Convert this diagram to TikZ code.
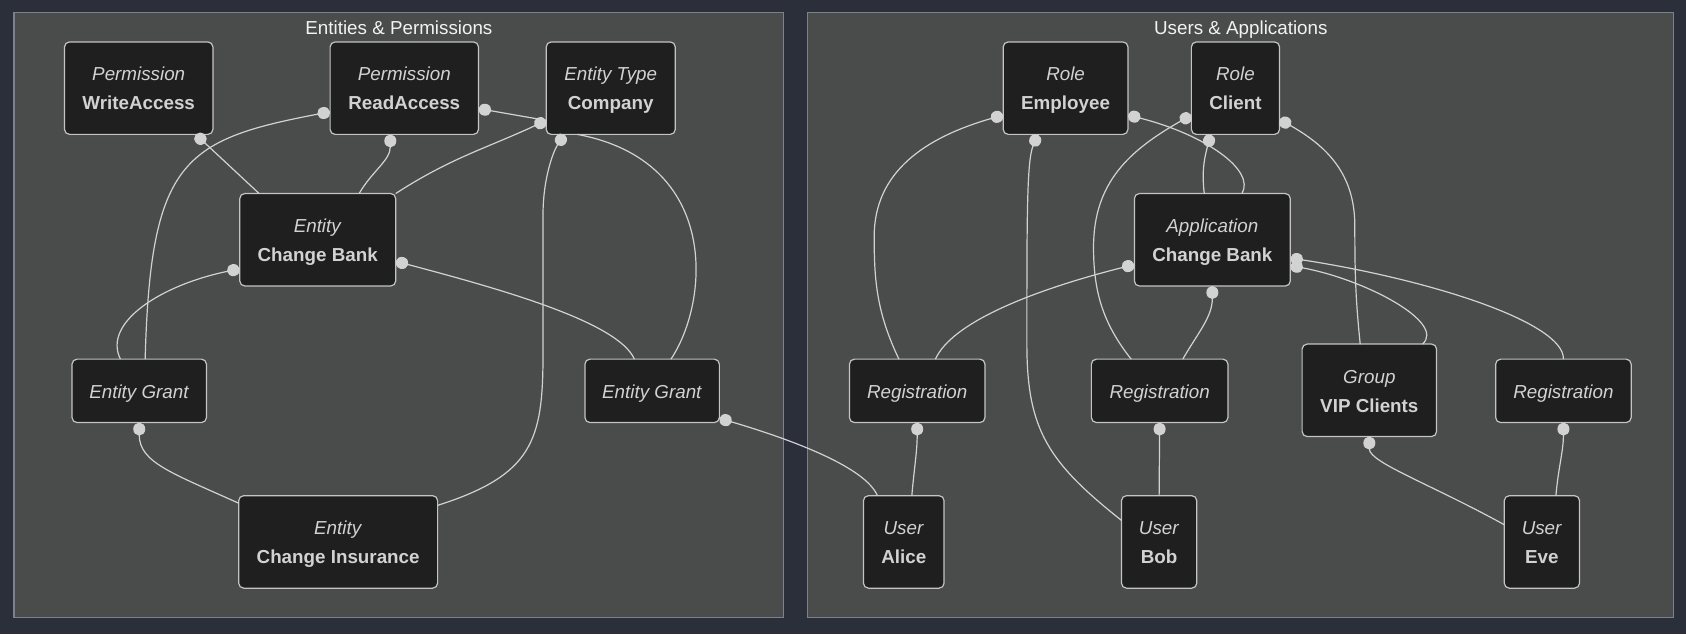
\documentclass[tikz,border=0pt]{standalone}
\usepackage{fontspec}
\setmainfont{Liberation Sans}
\usetikzlibrary{arrows.meta,calc}
\definecolor{pagebg}{HTML}{2A2F3A}
\definecolor{clusterbg}{HTML}{4A4B4B}
\definecolor{clusterline}{HTML}{7A8290}
\definecolor{nodebg}{HTML}{1F1F1F}
\definecolor{nodeline}{HTML}{C4C4C4}
\definecolor{nodetext}{HTML}{D2D2D2}
\definecolor{linkcol}{HTML}{D2D2D2}
\definecolor{titletext}{HTML}{F2F2F2}
\def\u{0.53765pt}
\newcommand{\Ln}[1]{\rule[-2.2pt]{0pt}{11.7pt}#1}
\begin{document}
\begin{tikzpicture}[x=\u, y=\u,
  box/.style={draw=nodeline, fill=nodebg, line width=0.6pt, rounded corners=2.5pt,
    text=nodetext, inner sep=0pt, outer sep=0pt, align=center,
    font=\fontsize{9.4pt}{14.5pt}\selectfont},
  sz/.style 2 args={minimum width=#1*\u, minimum height=#2*\u},
  cluster/.style={draw=clusterline, fill=clusterbg, line width=0.6pt},
  ctitle/.style={text=titletext, font=\fontsize{9.4pt}{11pt}\selectfont, inner sep=0pt, anchor=base},
  link/.style={draw=linkcol, line width=0.6pt},
  dotend/.style={-{Circle[length=6.5pt,width=6pt]}}
]
\useasboundingbox (0,0) rectangle (1568,-590);
\fill[pagebg] (0,0) rectangle (1568,-590);
% clusters
\draw[cluster] (13,-12) rectangle (729,-574);
\draw[cluster] (751,-12) rectangle (1556,-574);
\node[ctitle] (t1) at (371,-32.5) {Entities \& Permissions};
\node[ctitle] (t2) at (1154,-32.5) {Users \& Applications};
% left nodes
\node[box, sz={138}{86}] (wa) at (129,-82) {\Ln{\textit{Permission}}\\\Ln{\textbf{WriteAccess}}};
\node[box, sz={138}{86}] (ra) at (376,-82) {\Ln{\textit{Permission}}\\\Ln{\textbf{ReadAccess}}};
\node[box, sz={120}{86}] (co) at (568,-82) {\Ln{\textit{Entity Type}}\\\Ln{\textbf{Company}}};
\node[box, sz={145}{86}] (eb) at (295.5,-223) {\Ln{\textit{Entity}}\\\Ln{\textbf{Change Bank}}};
\node[box, sz={125}{59}] (gl) at (129.5,-363.5) {\Ln{\textit{Entity Grant}}};
\node[box, sz={125}{59}] (gr) at (606.5,-363.5) {\Ln{\textit{Entity Grant}}};
\node[box, sz={185}{86}] (ins) at (314.5,-504) {\Ln{\textit{Entity}}\\\Ln{\textbf{Change Insurance}}};
% right nodes
\node[box, sz={116}{86}] (emp) at (991,-82) {\Ln{\textit{Role}}\\\Ln{\textbf{Employee}}};
\node[box, sz={82}{86}] (cl) at (1149,-82) {\Ln{\textit{Role}}\\\Ln{\textbf{Client}}};
\node[box, sz={145}{86}] (ab) at (1127.5,-223) {\Ln{\textit{Application}}\\\Ln{\textbf{Change Bank}}};
\node[box, sz={126}{59}] (rga) at (853,-363.5) {\Ln{\textit{Registration}}};
\node[box, sz={127}{59}] (rgb) at (1078.5,-363.5) {\Ln{\textit{Registration}}};
\node[box, sz={125}{86}] (vip) at (1273.5,-363) {\Ln{\textit{Group}}\\\Ln{\textbf{VIP Clients}}};
\node[box, sz={126}{59}] (rge) at (1454,-363.5) {\Ln{\textit{Registration}}};
\node[box, sz={75}{86}] (al) at (840.5,-504) {\Ln{\textit{User}}\\\Ln{\textbf{Alice}}};
\node[box, sz={70}{86}] (bob) at (1078,-504) {\Ln{\textit{User}}\\\Ln{\textbf{Bob}}};
\node[box, sz={70}{86}] (eve) at (1434,-504) {\Ln{\textit{User}}\\\Ln{\textbf{Eve}}};
% left edges
\draw[link,dotend] ($(eb.north)+(-54.5,0)$) -- ($(wa.south)+(53,0)$);
\draw[link,dotend] ($(eb.north)+(38.5,0)$) to[out=60,in=-90] ($(ra.south)+(-13,0)$);
\draw[link,dotend] (eb.north east) to[out=33,in=205] ($(co.west)+(0,-30)$);
\draw[link,dotend] ($(co.west)+(0,-30)$) -- ($(ra.east)+(0,-19)$);
\draw[link,dotend] ($(gl.north)+(5.5,0)$) .. controls +(5,184) and +(-137,-26) .. ($(ra.west)+(0,-22)$);
\draw[link,dotend] ($(gl.north)+(-17.5,0)$) .. controls +(-17,34) and +(-73,-15) .. ($(eb.west)+(0,-27)$);
\draw[link,dotend] ($(gr.north)+(-16.5,0)$) .. controls +(-15,34) and +(102,-27) .. ($(eb.east)+(0,-20)$);
\draw[link] ($(co.south)+(-31,0)$) .. controls +(133,-25) and +(36,54) .. ($(gr.north)+(17.5,0)$);
\draw[link,dotend] ($(ins.north east)+(0,-9)$) .. controls (495,-442) and (505,-410) .. (505,-330) -- (505,-200) .. controls (505,-165) and (515,-140) .. ($(co.south)+(-43,0)$);
\draw[link,dotend] ($(ins.north west)+(0,-7)$) .. controls +(-62,28) and +(0,-37) .. (gl.south);
\draw[link,dotend] ($(al.north)+(-24.5,0)$) .. controls +(-11,26) and +(71,-21) .. ($(gr.east)+(0,-25.5)$);
% right edges
\draw[link,dotend] ($(rga.north)+(-17,0)$) .. controls (815,-290) and (813,-260) .. (813,-220) .. controls (813,-160) and (860,-128) .. ($(emp.west)+(0,-25)$);
\draw[link,dotend] ($(bob.west)+(0,20)$) .. controls (975,-430) and (955,-400) .. (955,-320) .. controls (955,-200) and (955,-150) .. ($(emp.south)+(-26,0)$);
\draw[link,dotend] ($(ab.north)+(27.5,0)$) .. controls +(13,22) and +(71,-18) .. ($(emp.east)+(0,-25)$);
\draw[link,dotend] ($(rgb.north)+(-26.5,0)$) .. controls (1025,-300) and (1017,-270) .. (1017,-230) .. controls (1017,-170) and (1050,-140) .. ($(cl.west)+(0,-25)$);
\draw[link,dotend] ($(ab.north)+(-7.5,0)$) to[out=97,in=-105] ($(cl.south)+(-23,0)$);
\draw[link,dotend] ($(vip.north)+(-8.5,0)$) .. controls (1261,-280) and (1260,-260) .. (1260,-210) .. controls (1260,-160) and (1232,-135) .. ($(cl.east)+(0,-29)$);
\draw[link,dotend] ($(rga.north)+(17,0)$) .. controls +(15,34) and +(-95,-24) .. ($(ab.west)+(0,-23)$);
\draw[link,dotend] ($(rgb.north)+(21.5,0)$) to[out=60,in=-90] (ab.south);
\draw[link,dotend] (rge.north) .. controls +(1,34) and +(130,-20) .. ($(ab.east)+(0,-17)$);
\draw[link,dotend] ($(vip.north east)+(-13,0)$) .. controls +(22,20) and +(70,-13) .. ($(ab.east)+(0,-24)$);
\draw[link,dotend] ($(al.north)+(7.5,0)$) to[out=85,in=-90] (rga.south);
\draw[link,dotend] (bob.north) -- (rgb.south);
\draw[link,dotend] ($(eve.west)+(0,16)$) .. controls +(-69,38) and +(0,-24) .. (vip.south);
\draw[link,dotend] ($(eve.north)+(13,0)$) to[out=85,in=-90] (rge.south);
\end{tikzpicture}
\end{document}
